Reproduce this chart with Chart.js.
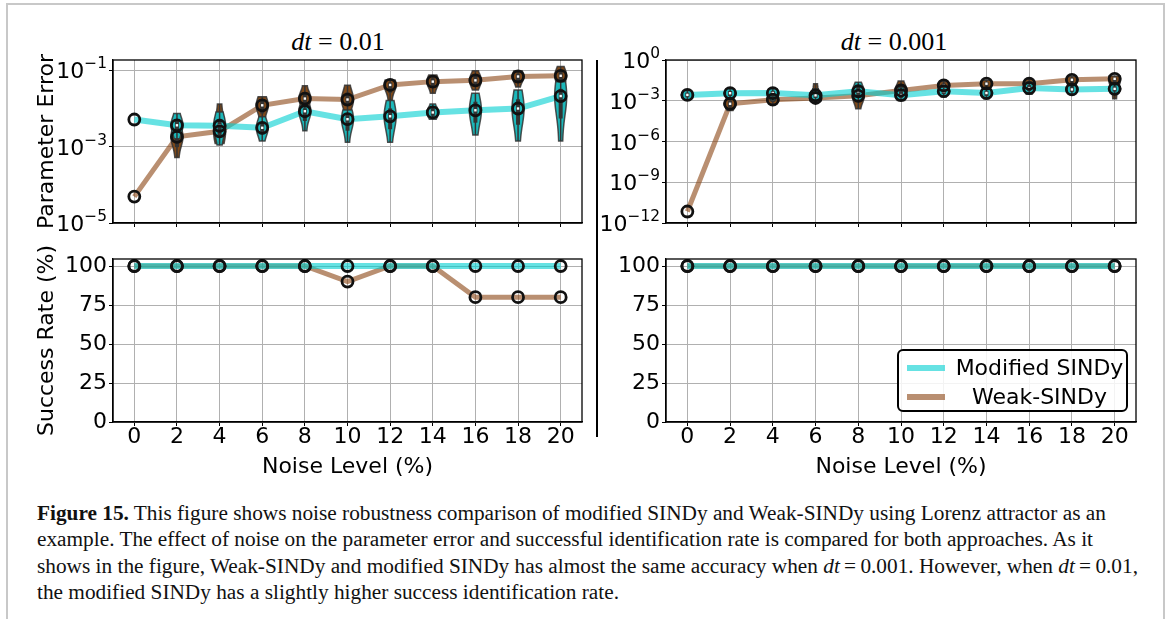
<!DOCTYPE html>
<html>
<head>
<meta charset="utf-8">
<script src="https://cdn.jsdelivr.net/npm/chart.js@4.4.1/dist/chart.umd.min.js"></script>
<style>
  body { margin: 0; background: #fff; width: 1167px; height: 619px; overflow: hidden; position: relative; }
  .frame { position: absolute; left: 6px; top: 3px; width: 1155px; height: 700px; border: 2px solid #c8c8c8; border-bottom: none; }
  .panel { position: absolute; }
  .title { position: absolute; font-family: 'Liberation Serif', serif; font-size: 26px; transform: translateX(-50%); white-space: nowrap; }
  .divider { position: absolute; left: 596px; top: 60px; width: 2px; height: 377px; background: #000; }
  .legend { position: absolute; left: 897px; top: 349px; width: 227px; height: 59px; border: 2px solid #000; border-radius: 6px; background: rgba(255,255,255,0.85); font-family: 'DejaVu Sans'; font-size: 22px; }
  .legend .row { position: absolute; left: 0; width: 100%; height: 26px; }
  .legend .swatch { position: absolute; left: 8px; top: 10px; width: 38px; height: 6px; }
  .legend .label { position: absolute; left: 54px; right: 0; text-align: center; line-height: 26px; }
  .caption { position: absolute; left: 37px; top: 500px; font-family: 'Liberation Serif', serif; font-size: 21.3px; line-height: 26.3px; white-space: nowrap; color: #111; }
</style>
</head>
<body>
<div class="frame"></div>

<div class="title" style="left:338px; top:27px;"><i>dt</i> = 0.01</div>
<div class="title" style="left:894px; top:27px;"><i>dt</i> = 0.001</div>

<div class="panel" style="left:20px; top:30px;"><canvas id="errA" width="580" height="209"></canvas></div>
<div class="panel" style="left:600px; top:30px;"><canvas id="errB" width="560" height="209"></canvas></div>
<div class="panel" style="left:20px; top:235px;"><canvas id="rateA" width="580" height="252"></canvas></div>
<div class="panel" style="left:600px; top:235px;"><canvas id="rateB" width="560" height="252"></canvas></div>

<div class="divider"></div>

<div class="legend">
  <div class="row" style="top:4px;"><div class="swatch" style="background:rgba(0,206,209,0.6)"></div><div class="label">Modified SINDy</div></div>
  <div class="row" style="top:33px;"><div class="swatch" style="background:rgba(139,69,19,0.6)"></div><div class="label">Weak-SINDy</div></div>
</div>

<div class="caption">
  <b>Figure 15.</b> This figure shows noise robustness comparison of modified SINDy and Weak-SINDy using Lorenz attractor as an<br>
  example. The effect of noise on the parameter error and successful identification rate is compared for both approaches. As it<br>
  shows in the figure, Weak-SINDy and modified SINDy has almost the same accuracy when <i>dt</i>&#8201;=&#8201;0.001. However, when <i>dt</i>&#8201;=&#8201;0.01,<br>
  the modified SINDy has a slightly higher success identification rate.
</div>

<script>
const noise = [0, 2, 4, 6, 8, 10, 12, 14, 16, 18, 20];
const rateTicks = [0, 25, 50, 75, 100];
const errTicksA = [1e-5, 1e-3, 1e-1];
const errTicksB = [1e-12, 1e-9, 1e-6, 1e-3, 1];

// dt = 0.01 : median parameter error and spread of runs
const errModA = [5.1e-3, 3.6e-3, 3.5e-3, 3.1e-3, 8.4e-3, 5.2e-3, 6.2e-3, 7.8e-3, 8.9e-3, 9.9e-3, 2.1e-2];
const errModALo = [5.1e-3, 1.6e-3, 1.1e-3, 1.4e-3, 2.6e-3, 1.3e-3, 1.3e-3, 5.2e-3, 2.0e-3, 1.4e-3, 1.4e-3];
const errModAHi = [5.1e-3, 7.3e-3, 8.0e-3, 6.0e-3, 1.2e-2, 9.0e-3, 1.6e-2, 1.3e-2, 2.5e-2, 3.0e-2, 5.0e-2];
const errWeakA = [4.9e-5, 1.8e-3, 2.5e-3, 1.2e-2, 1.8e-2, 1.7e-2, 4.1e-2, 5.0e-2, 5.4e-2, 6.8e-2, 7.1e-2];
const errWeakALo = [4.9e-5, 5.2e-4, 1.2e-3, 4.5e-3, 1.1e-2, 8.0e-3, 1.6e-2, 2.5e-2, 3.0e-2, 3.6e-2, 3.5e-2];
const errWeakAHi = [4.9e-5, 3.0e-3, 1.3e-2, 2.0e-2, 3.9e-2, 4.0e-2, 5.5e-2, 7.5e-2, 9.6e-2, 9.6e-2, 1.24e-1];

// dt = 0.001
const errModB = [2.7e-3, 3.6e-3, 3.7e-3, 2.5e-3, 5.0e-3, 2.6e-3, 5.1e-3, 3.7e-3, 8.5e-3, 6.8e-3, 7.5e-3];
const errModBLo = [1.2e-3, 1.4e-3, 1.05e-3, 1.05e-3, 1.05e-3, 1.05e-3, 1.85e-3, 1.4e-3, 3.0e-3, 3.0e-3, 3.0e-3];
const errModBHi = [5.7e-3, 7.6e-3, 7.6e-3, 7.6e-3, 2.35e-2, 1.0e-2, 1.0e-2, 7.6e-3, 2.35e-2, 1.8e-2, 1.8e-2];
const errWeakB = [7e-12, 6e-4, 1.2e-3, 1.6e-3, 2.3e-3, 5.7e-3, 1.35e-2, 1.8e-2, 1.8e-2, 3.5e-2, 4.1e-2];
const errWeakBLo = [7e-12, 1.9e-4, 5.6e-4, 1.0e-3, 2.6e-4, 1.4e-3, 4.3e-3, 7.6e-3, 1.0e-2, 1.35e-2, 1.4e-3];
const errWeakBHi = [7e-12, 1.85e-3, 3.2e-3, 1.8e-2, 1.0e-2, 2.8e-2, 2.6e-2, 3.2e-2, 4.2e-2, 6.0e-2, 6.5e-2];

// success rate (%)
const rateModA = [100, 100, 100, 100, 100, 100, 100, 100, 100, 100, 100];
const rateWeakA = [100, 100, 100, 100, 100, 90, 100, 100, 80, 80, 80];
const rateModB = [100, 100, 100, 100, 100, 100, 100, 100, 100, 100, 100];
const rateWeakB = [100, 100, 100, 100, 100, 100, 100, 100, 100, 100, 100];

const modColor = 'rgba(0, 206, 209, 0.6)';
const weakColor = 'rgba(139, 69, 19, 0.6)';
const modFill = 'rgb(28, 184, 186)';
const weakFill = 'rgb(128, 74, 26)';

Chart.defaults.font.family = 'DejaVu Sans';
Chart.defaults.color = '#000';

const points = (ys) => noise.map((x, i) => ({ x, y: ys[i] }));

function drawViolin(ctx, x, top, mid, bot, fill) {
  const hw = 6;
  const span = bot - top;
  const sig = Math.max(span * 0.45, 4);
  const steps = 24;
  const edge = [];
  for (let k = 0; k <= steps; k++) {
    const y = top + (span * k) / steps;
    edge.push([y, hw * (0.3 + 0.7 * Math.exp(-Math.pow((y - mid) / sig, 2)))]);
  }
  ctx.beginPath();
  edge.forEach(([y, w], k) => (k ? ctx.lineTo(x + w, y) : ctx.moveTo(x + w, y)));
  for (let k = edge.length - 1; k >= 0; k--) ctx.lineTo(x - edge[k][1], edge[k][0]);
  ctx.closePath();
  ctx.fillStyle = fill;
  ctx.fill();
  ctx.strokeStyle = 'rgba(50, 50, 50, 0.85)';
  ctx.lineWidth = 1.5;
  ctx.stroke();

  ctx.strokeStyle = '#333';
  ctx.beginPath();
  ctx.moveTo(x, top);
  ctx.lineTo(x, bot);
  ctx.stroke();
  ctx.lineWidth = 4;
  ctx.beginPath();
  ctx.moveTo(x, mid - (mid - top) * 0.5);
  ctx.lineTo(x, mid + (bot - mid) * 0.5);
  ctx.stroke();
  ctx.fillStyle = '#fff';
  ctx.fillRect(x - 1.2, mid - 1.2, 2.4, 2.4);
}

// violins go on top of the lines but under the median rings
const violinPlugin = {
  id: 'violins',
  afterDatasetDraw(chart, args) {
    const ds = chart.data.datasets[args.index];
    if (!ds.violins) return;
    const ctx = chart.ctx;
    const xs = chart.scales.x;
    const ys = chart.scales.y;
    ctx.save();
    ds.violins.forEach((g) => {
      noise.forEach((n, i) => {
        const x = xs.getPixelForValue(n);
        const top = ys.getPixelForValue(g.hi[i]);
        const bot = ys.getPixelForValue(g.lo[i]);
        const mid = ys.getPixelForValue(g.med[i]);
        if (bot - top < 3) return;
        drawViolin(ctx, x, top, mid, bot, g.fill);
      });
    });
    ctx.restore();
  },
};

const framePlugin = {
  id: 'frame',
  afterDraw(chart) {
    const { left, top, right, bottom } = chart.chartArea;
    const ctx = chart.ctx;
    ctx.save();
    ctx.strokeStyle = '#000';
    ctx.lineWidth = 1.3;
    ctx.strokeRect(left, top, right - left, bottom - top);
    ctx.restore();
  },
};

// log axis labels as 10 with a raised exponent
const powLabelPlugin = {
  id: 'powLabels',
  afterDraw(chart) {
    const s = chart.scales.y;
    if (s.type !== 'logarithmic') return;
    const ctx = chart.ctx;
    const right = chart.chartArea.left - 6;
    ctx.save();
    ctx.fillStyle = '#000';
    ctx.textBaseline = 'alphabetic';
    s.ticks.forEach((t) => {
      const y = s.getPixelForValue(t.value);
      const exp = String(Math.round(Math.log10(t.value))).replace('-', '\u2212');
      ctx.font = '15.4px "DejaVu Sans"';
      const ew = ctx.measureText(exp).width;
      ctx.textAlign = 'left';
      ctx.fillText(exp, right - ew, y - 2);
      ctx.font = '22px "DejaVu Sans"';
      ctx.textAlign = 'right';
      ctx.fillText('10', right - ew, y + 8);
    });
    ctx.restore();
  },
};

function panel(id, cfg) {
  const datasets = [
    {
      data: points(cfg.mod), borderColor: modColor, borderWidth: 6, pointRadius: 0, order: 3,
      violins: cfg.violins,
    },
    { data: points(cfg.weak), borderColor: weakColor, borderWidth: 5, pointRadius: 0, order: 4 },
    {
      data: points(cfg.weak), showLine: false, pointRadius: 5.5, pointBorderWidth: 2.8,
      pointBorderColor: '#111', pointBackgroundColor: 'rgba(0,0,0,0)', order: 1,
    },
    {
      data: points(cfg.mod), showLine: false, pointRadius: 5.5, pointBorderWidth: 2.8,
      pointBorderColor: '#111', pointBackgroundColor: 'rgba(0,0,0,0)', order: 0,
    },
  ];

  return new Chart(document.getElementById(id), {
    type: 'line',
    data: { datasets },
    options: {
      responsive: false,
      animation: false,
      devicePixelRatio: 1,
      layout: { padding: cfg.padding },
      plugins: { legend: { display: false }, tooltip: { enabled: false } },
      scales: {
        x: {
          type: 'linear',
          min: -1,
          max: 21,
          afterBuildTicks: (s) => { s.ticks = noise.map((v) => ({ value: v })); },
          afterFit: (s) => { s.height = cfg.xHeight; },
          grid: { color: '#b0b0b0', lineWidth: 1, tickColor: '#000', tickLength: 4, tickWidth: 1 },
          border: { color: '#000', width: 1.3 },
          ticks: { display: cfg.xLabels, padding: 0, maxRotation: 0, font: { size: 22, lineHeight: 1 }, callback: (v) => String(v) },
          title: { display: cfg.xLabels, text: 'Noise Level (%)', font: { size: 22 }, padding: { top: 0, bottom: 7 } },
        },
        y: {
          type: cfg.log ? 'logarithmic' : 'linear',
          min: cfg.yMin,
          max: cfg.yMax,
          afterBuildTicks: (s) => { s.ticks = cfg.yTicks.map((v) => ({ value: v })); },
          afterFit: (s) => { s.width = cfg.yWidth; },
          grid: { color: '#b0b0b0', lineWidth: 1, tickColor: '#000', tickLength: 4, tickWidth: 1 },
          border: { color: '#000', width: 1.3 },
          ticks: { display: !cfg.log, padding: 2, font: { size: 22 }, callback: (v) => String(v) },
          title: { display: !!cfg.yTitle, text: cfg.yTitle, font: { size: 22 }, padding: { top: 14, bottom: 0 } },
        },
      },
    },
    plugins: [violinPlugin, framePlugin, powLabelPlugin],
  });
}

panel('errA', {
  mod: errModA, weak: errWeakA, log: true, yMin: 1e-5, yMax: 0.184, yTicks: errTicksA,
  yTitle: 'Parameter Error', yWidth: 93, xHeight: 7, xLabels: false,
  padding: { top: 30, right: 18, bottom: 9, left: 0 },
  violins: [
    { lo: errWeakALo, med: errWeakA, hi: errWeakAHi, fill: weakFill },
    { lo: errModALo, med: errModA, hi: errModAHi, fill: modFill },
  ],
});

panel('errB', {
  mod: errModB, weak: errWeakB, log: true, yMin: 1e-12, yMax: 1, yTicks: errTicksB,
  yTitle: '', yWidth: 66, xHeight: 7, xLabels: false,
  padding: { top: 30, right: 24, bottom: 9, left: 0 },
  violins: [
    { lo: errWeakBLo, med: errWeakB, hi: errWeakBHi, fill: weakFill },
    { lo: errModBLo, med: errModB, hi: errModBHi, fill: modFill },
  ],
});

panel('rateA', {
  mod: rateModA, weak: rateWeakA, log: false, yMin: 0, yMax: 104.5, yTicks: rateTicks,
  yTitle: 'Success Rate (%)', yWidth: 93, xHeight: 65, xLabels: true,
  padding: { top: 24, right: 18, bottom: 0, left: 0 },
});

panel('rateB', {
  mod: rateModB, weak: rateWeakB, log: false, yMin: 0, yMax: 104.5, yTicks: rateTicks,
  yTitle: '', yWidth: 66, xHeight: 65, xLabels: true,
  padding: { top: 24, right: 24, bottom: 0, left: 0 },
});
</script>
</body>
</html>
